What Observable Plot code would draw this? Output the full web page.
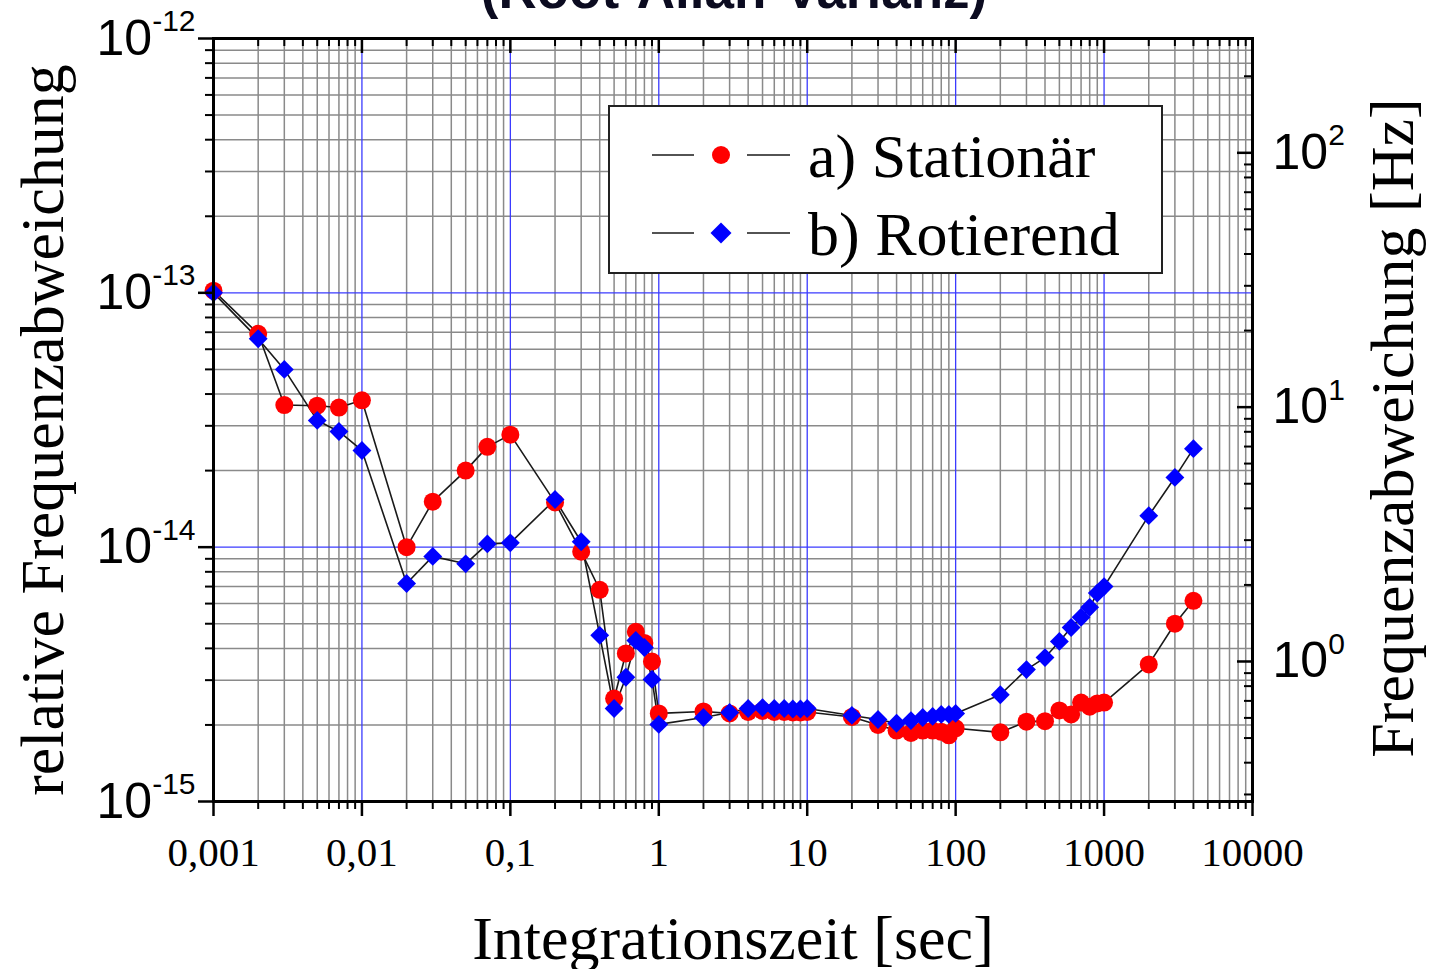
<!DOCTYPE html>
<html>
<head>
<meta charset="utf-8">
<script src="https://cdn.jsdelivr.net/npm/d3@7"></script>
<script src="https://cdn.jsdelivr.net/npm/@observablehq/plot@0.6"></script>
<style>
  html, body { margin: 0; padding: 0; background: #fff; }
  #wrap { position: relative; width: 1431px; height: 969px; overflow: hidden; background: #fff; }
  #overlay { position: absolute; left: 0; top: 0; pointer-events: none; }
</style>
</head>
<body>
<div id="wrap"></div>
<script>
// ---------------- data ----------------
const tau = [0.001, 0.002, 0.003, 0.005, 0.007, 0.01, 0.02, 0.03, 0.05, 0.07, 0.1, 0.2, 0.3, 0.4, 0.5, 0.6, 0.7, 0.8, 0.9,
  1, 2, 3, 4, 5, 6, 7, 8, 9, 10, 20, 30, 40, 50, 60, 70, 80, 90, 100, 200, 300, 400, 500, 600, 700, 800, 900, 1000, 2000, 3000, 4000];
const stationaer = [1.02e-13, 6.9e-14, 3.62e-14, 3.6e-14, 3.54e-14, 3.78e-14, 1.0e-14, 1.51e-14, 2.0e-14, 2.48e-14, 2.77e-14,
  1.5e-14, 9.6e-15, 6.8e-15, 2.54e-15, 3.82e-15, 4.65e-15, 4.2e-15, 3.55e-15,
  2.22e-15, 2.26e-15, 2.22e-15, 2.25e-15, 2.27e-15, 2.25e-15, 2.25e-15, 2.24e-15, 2.24e-15, 2.25e-15,
  2.15e-15, 2.0e-15, 1.9e-15, 1.86e-15, 1.9e-15, 1.9e-15, 1.88e-15, 1.82e-15, 1.94e-15,
  1.87e-15, 2.06e-15, 2.07e-15, 2.28e-15, 2.2e-15, 2.45e-15, 2.36e-15, 2.43e-15, 2.45e-15, 3.46e-15, 5.0e-15, 6.15e-15];
const rotierend = [1.0e-13, 6.6e-14, 5.0e-14, 3.15e-14, 2.85e-14, 2.4e-14, 7.2e-15, 9.2e-15, 8.6e-15, 1.03e-14, 1.04e-14,
  1.54e-14, 1.05e-14, 4.5e-15, 2.32e-15, 3.08e-15, 4.3e-15, 4.03e-15, 3.02e-15,
  2.01e-15, 2.14e-15, 2.24e-15, 2.32e-15, 2.34e-15, 2.32e-15, 2.32e-15, 2.31e-15, 2.31e-15, 2.32e-15,
  2.18e-15, 2.1e-15, 2.03e-15, 2.08e-15, 2.14e-15, 2.16e-15, 2.2e-15, 2.2e-15, 2.22e-15,
  2.63e-15, 3.3e-15, 3.68e-15, 4.26e-15, 4.83e-15, 5.3e-15, 5.8e-15, 6.6e-15, 7.0e-15, 1.33e-14, 1.88e-14, 2.44e-14];

const seriesNames = ["a) Stationär", "b) Rotierend"];
const nu0 = 2.815e14; // optical frequency used for the right-hand axis (Hz per unit relative deviation)

// ticks
const xMajor = [0.001, 0.01, 0.1, 1, 10, 100, 1000, 10000];
const xLabels = ["0,001", "0,01", "0,1", "1", "10", "100", "1000", "10000"];
const xMinor = d3.range(-3, 4).flatMap(e => d3.range(2, 10).map(m => +(m * Math.pow(10, e)).toPrecision(3)));
const yMajor = [1e-15, 1e-14, 1e-13, 1e-12];
const yLabels = ["10^-15", "10^-14", "10^-13", "10^-12"];
const yMinor = d3.range(-15, -12).flatMap(e => d3.range(2, 10).map(m => +(m * Math.pow(10, e)).toPrecision(3)));
const hzMajor = [1, 10, 100];
const hzLabels = ["10^0", "10^1", "10^2"];
const hzMinor = [0.3, 0.4, 0.5, 0.6, 0.7, 0.8, 0.9, 2, 3, 4, 5, 6, 7, 8, 9, 20, 30, 40, 50, 60, 70, 80, 90, 200];

// --------------- table ---------------
const rowsA = tau.map((t, i) => ({tau: t, v: stationaer[i], s: seriesNames[0]}));
const rowsB = tau.map((t, i) => ({tau: t, v: rotierend[i], s: seriesNames[1]}));

const serif = "'Liberation Serif', 'Times New Roman', serif";
const sans = "'Liberation Sans', Arial, sans-serif";
const xMin = 0.001, xMax = 10000, yMin = 1e-15, yMax = 1e-12;

const chart = Plot.plot({
  width: 1431,
  height: 969,
  marginLeft: 213,
  marginRight: 179,
  marginTop: 38,
  marginBottom: 168,
  style: {fontFamily: serif, background: "white", color: "black"},
  x: {type: "log", domain: [xMin, xMax]},
  y: {type: "log", domain: [yMin, yMax]},
  marks: [
    // grid
    Plot.ruleX(xMinor, {stroke: "#8a8a8a", strokeWidth: 1.5}),
    Plot.ruleY(yMinor, {stroke: "#8a8a8a", strokeWidth: 1.5}),
    Plot.ruleX(xMajor.slice(1, -1), {stroke: "#3b3bff", strokeWidth: 1.3}),
    Plot.ruleY(yMajor.slice(1, -1), {stroke: "#3b3bff", strokeWidth: 1.3}),
    // data
    Plot.line(rowsA, {x: "tau", y: "v", stroke: "#1a1a1a", strokeWidth: 1.6}),
    Plot.line(rowsB, {x: "tau", y: "v", stroke: "#1a1a1a", strokeWidth: 1.6}),
    Plot.dot(rowsA, {x: "tau", y: "v", r: 9, fill: "#ff0000", stroke: "none"}),
    Plot.dot(rowsB, {x: "tau", y: "v", r: 8.5, symbol: "diamond2", fill: "#0000ff", stroke: "none"}),
    // frame
    Plot.frame({stroke: "black", strokeWidth: 3}),
    // bottom axis
    Plot.axisX({anchor: "bottom", ticks: xMajor, tickSize: 15, tickPadding: 20, strokeWidth: 2.5,
      tickFormat: d => xLabels[xMajor.indexOf(d)], fontSize: 41, fontFamily: serif, label: null}),
    Plot.axisX({anchor: "bottom", ticks: xMinor, tickSize: 8, strokeWidth: 2, tickFormat: () => "", label: null}),
    // top ticks (inward)
    Plot.ruleX(xMajor, {y1: yMax, y2: yMax, insetBottom: -15, stroke: "black", strokeWidth: 2.5}),
    Plot.ruleX(xMinor, {y1: yMax, y2: yMax, insetBottom: -8, stroke: "black", strokeWidth: 2}),
    // left axis
    Plot.axisY({anchor: "left", ticks: yMajor, tickSize: 15, tickPadding: 3, strokeWidth: 2.5,
      tickFormat: d => yLabels[yMajor.indexOf(d)], fontSize: 50, fontFamily: sans, label: null}),
    Plot.axisY({anchor: "left", ticks: yMinor, tickSize: 8, strokeWidth: 2, tickFormat: () => "", label: null}),
    // right axis in Hz (inward ticks)
    Plot.ruleY(hzMajor.map(h => h / nu0), {x1: xMax, x2: xMax, insetLeft: -15, stroke: "black", strokeWidth: 2.5}),
    Plot.ruleY(hzMinor.map(h => h / nu0), {x1: xMax, x2: xMax, insetLeft: -8, stroke: "black", strokeWidth: 2}),
    Plot.axisY({anchor: "right", ticks: hzMajor.map(h => h / nu0), tickSize: 0, tickPadding: 20,
      tickFormat: d => hzLabels[hzMajor.indexOf(Math.round(d * nu0))], fontSize: 50, fontFamily: sans, label: null}),
    // axis titles
    Plot.text(["Integrationszeit [sec]"], {frameAnchor: "bottom", dy: 157, lineAnchor: "bottom", textAnchor: "middle", fontSize: 62, fontFamily: serif, fill: "black"}),
    Plot.text(["relative Frequenzabweichung"], {frameAnchor: "left", dx: -151, dy: 10, rotate: -90, textAnchor: "middle", lineAnchor: "bottom", fontSize: 62, fontFamily: serif, fill: "black"}),
    Plot.text(["Frequenzabweichung [Hz]"], {frameAnchor: "right", dx: 160, dy: 8, rotate: -90, textAnchor: "middle", lineAnchor: "bottom", fontSize: 62, fontFamily: serif, fill: "black"})
  ]
});

// exponent formatting of the power-of-ten tick labels
d3.select(chart).selectAll('g[aria-label="y-axis tick label"] text').each(function () {
  const parts = this.textContent.split("^");
  if (parts.length === 2) {
    const t = d3.select(this);
    t.text("");
    t.append("tspan").text(parts[0]);
    t.append("tspan").attr("dy", "-0.78em").attr("font-size", "0.6em").text(parts[1]);
  }
});

const wrap = document.getElementById("wrap");
wrap.appendChild(chart);

// ------------- title (cropped) and legend overlay -------------
const ov = d3.select(wrap).append("svg").attr("id", "overlay").attr("width", 1431).attr("height", 969);
ov.append("text").attr("x", 734).attr("y", 8).attr("text-anchor", "middle")
  .attr("font-family", sans).attr("font-weight", "bold").attr("font-size", 53).attr("fill", "#0b0b20")
  .text("(Root-Allan-Varianz)");

const lg = ov.append("g").attr("transform", "translate(609,106)");
lg.append("rect").attr("x", 0).attr("y", 0).attr("width", 553).attr("height", 167)
  .attr("fill", "white").attr("stroke", "#222").attr("stroke-width", 2);
const rowsY = [49, 127];
seriesNames.forEach((name, i) => {
  const y = rowsY[i];
  lg.append("line").attr("x1", 43).attr("x2", 85).attr("y1", y).attr("y2", y).attr("stroke", "#1a1a1a").attr("stroke-width", 1.6);
  lg.append("line").attr("x1", 138).attr("x2", 181).attr("y1", y).attr("y2", y).attr("stroke", "#1a1a1a").attr("stroke-width", 1.6);
  if (i === 0) {
    lg.append("circle").attr("cx", 112).attr("cy", y).attr("r", 9).attr("fill", "#ff0000");
  } else {
    lg.append("path").attr("d", `M112,${y - 10.5}L${122.5},${y}L112,${y + 10.5}L${101.5},${y}Z`).attr("fill", "#0000ff");
  }
  lg.append("text").attr("x", 199).attr("y", y + 22).attr("font-family", serif).attr("font-size", 62)
    .attr("fill", "black").text(name);
});
</script>
</body>
</html>
